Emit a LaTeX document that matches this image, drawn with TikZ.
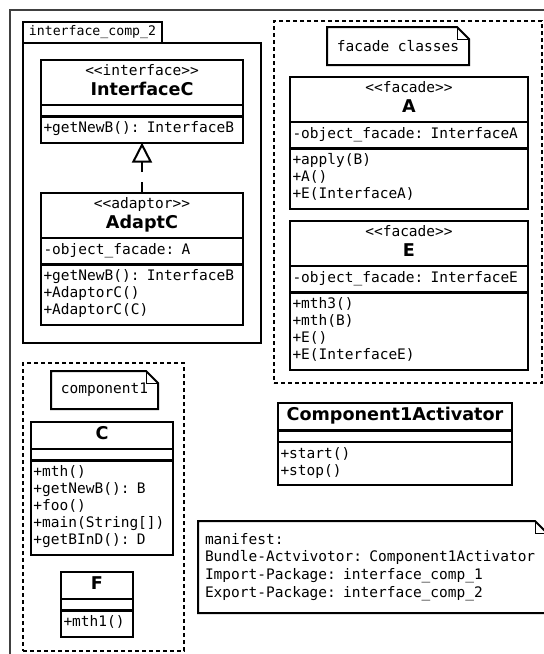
\documentclass[tikz,border=0pt]{standalone}
\usepackage{fontspec}
\setmainfont{DejaVu Sans}
\setsansfont{DejaVu Sans}
\setmonofont{DejaVu Sans Mono}
\usepackage{tikz}
\usetikzlibrary{shapes.multipart}
\usetikzlibrary{arrows.meta}

\newcommand{\stereo}[1]{\rule[-5.1pt]{0pt}{11.9pt}<<#1>>\par}
\newcommand{\klnavn}[1]{{\sffamily\bfseries\fontsize{17.6}{20}\selectfont\rule[-5pt]{0pt}{18pt}#1\par}}
\newcommand{\tom}{\rule{0pt}{2pt}}

\begin{document}
\begin{tikzpicture}[
    x=1pt, y=-1pt,
    every node/.style={inner sep=0pt, outer sep=0pt},
    ramme/.style={rectangle, draw=black!75, line width=1.6pt, anchor=north west},
    pakke/.style={rectangle, draw=black, line width=2.2pt, anchor=north west},
    fane/.style={pakke, font=\ttfamily\fontsize{13.2}{15}\selectfont},
    gruppe/.style={rectangle, draw=black, line width=2pt,
        dash pattern=on 4pt off 3pt, anchor=north west},
    notat/.style={rectangle, anchor=north west,
        font=\ttfamily\fontsize{14.5}{17}\selectfont},
    notatlinje/.style={draw=black, line width=2pt, line join=miter},
    klasse/.style={draw=black, line width=2.2pt, anchor=north west,
        rectangle split, rectangle split parts=3,
        inner xsep=2.5pt, inner ysep=3.5pt, align=left,
        font=\ttfamily\fontsize{14.5}{17}\selectfont},
    realiserer/.style={line width=2pt, dash pattern=on 11pt off 10pt,
        -{Triangle[open, length=20pt, width=20pt, line width=2pt]}}
]
\useasboundingbox (0,0) rectangle (544,654);

% ydre ramme
\node[ramme, minimum width=560pt, minimum height=660pt] (ramme) at (10,10) {};

% pakke interface_comp_2
\node[fane, minimum width=139pt, minimum height=21pt] (fane) at (23,22) {interface\_comp\_2};
\node[pakke, minimum width=238pt, minimum height=300pt] (ic2) at (23,43) {};

\node[klasse, text width=197pt] (interfaceC) at (41,60) {
    \centering\stereo{interface}\klnavn{InterfaceC}
    \nodepart{second}\tom
    \nodepart{third}\strut+getNewB(): InterfaceB\strut
};
\node[klasse, text width=197pt] (adaptC) at (41,193) {
    \centering\stereo{adaptor}\klnavn{AdaptC}
    \nodepart{second}\strut-object\_facade: A\strut
    \nodepart{third}\strut+getNewB(): InterfaceB\\ +AdaptorC()\\ +AdaptorC(C)\strut
};
\draw[realiserer] (adaptC.north) -- (interfaceC.south);

% facade klasser
\node[gruppe, minimum width=268pt, minimum height=362pt] (facade) at (274,21) {};
\node[notat, minimum width=142pt, minimum height=38pt] (fcnote) at (327,27) {facade classes};

\node[klasse, text width=233pt] (A) at (290,77) {
    \centering\stereo{facade}\klnavn{A}
    \nodepart{second}\strut-object\_facade: InterfaceA\strut
    \nodepart{third}\strut+apply(B)\\ +A()\\ +E(InterfaceA)\strut
};
\node[klasse, text width=233pt] (E) at (290,221) {
    \centering\stereo{facade}\klnavn{E}
    \nodepart{second}\strut-object\_facade: InterfaceE\strut
    \nodepart{third}\strut+mth3()\\ +mth(B)\\ +E()\\ +E(InterfaceE)\strut
};

\node[klasse, text width=229pt] (activator) at (278,403) {
    \centering\klnavn{Component1Activator}
    \nodepart{second}\tom
    \nodepart{third}\strut+start()\\ +stop()\strut
};

% component1
\node[gruppe, minimum width=161pt, minimum height=288pt] (comp1) at (23,363) {};
\node[notat, minimum width=107pt, minimum height=38pt] (c1note) at (51,371) {component1};

\node[klasse, text width=137pt] (C) at (31,422) {
    \centering\klnavn{C}
    \nodepart{second}\tom
    \nodepart{third}\strut+mth()\\ +getNewB(): B\\ +foo()\\ +main(String[])\\ +getBInD(): D\strut
};
\node[klasse, text width=67pt] (F) at (61,572) {
    \centering\klnavn{F}
    \nodepart{second}\tom
    \nodepart{third}\strut+mth1()\strut
};

% manifest
\node[notat, minimum height=92pt, text width=335pt, inner xsep=7pt, align=left,
    font=\ttfamily\fontsize{14.5}{17.8}\selectfont] (mfnote) at (198,521) {
    manifest:\\
    Bundle-Actvivotor: Component1Activator\\
    Import-Package: interface\_comp\_1\\
    Export-Package: interface\_comp\_2
};

\foreach \n in {fcnote, c1note, mfnote} {
    \draw[notatlinje] (\n.north west) -- ([xshift=-12pt]\n.north east)
        -- ([yshift=-12pt]\n.north east) -- (\n.south east) -- (\n.south west) -- cycle;
    \draw[line width=1pt] ([xshift=-12pt]\n.north east) |- ([yshift=-12pt]\n.north east);
}
\end{tikzpicture}
\end{document}
